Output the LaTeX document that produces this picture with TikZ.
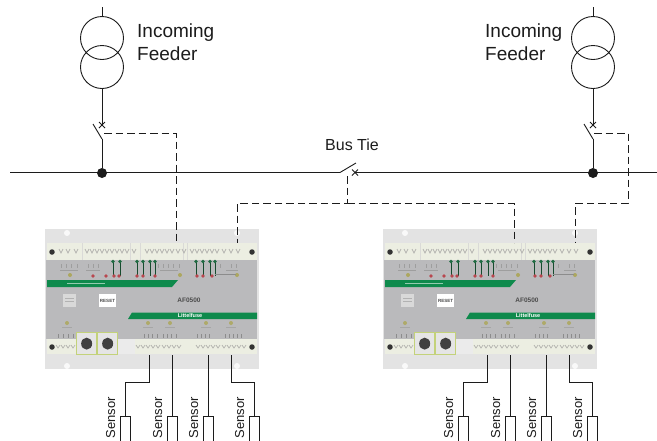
\documentclass[tikz,border=0pt]{standalone}
\usepackage{fontspec}
\setmainfont{Liberation Sans}
\usetikzlibrary{calc}
\definecolor{ink}{HTML}{1C1C1C}
\definecolor{bandlight}{HTML}{E3E3E3}
\definecolor{termlight}{HTML}{ECEEE2}
\definecolor{bodygray}{HTML}{BABABC}
\definecolor{devgreen}{HTML}{0E8A4C}
\definecolor{ledgreen}{HTML}{1F6B42}
\definecolor{ledred}{HTML}{B8474F}
\definecolor{tick}{HTML}{B4B4B0}
\definecolor{rjgreen}{HTML}{C3D27A}
\tikzset{
  wire/.style={draw=ink,line width=0.9pt},
  dashwire/.style={draw=ink,line width=0.9pt,dash pattern=on 7.5pt off 4pt},
  coil/.style={circle,draw=ink,line width=0.9pt,minimum size=43pt,inner sep=0pt},
  junction/.style={circle,fill=ink,minimum size=10pt,inner sep=0pt},
  biglabel/.style={anchor=base west,inner sep=0pt,text=ink,font=\fontsize{19}{23}\selectfont},
  tielabel/.style={anchor=base west,inner sep=0pt,text=ink,font=\fontsize{16}{20}\selectfont},
  senslabel/.style={anchor=base east,rotate=90,inner sep=0pt,text=ink,font=\fontsize{13}{15}\selectfont},
  sensorbox/.style={draw=ink,line width=0.9pt,anchor=north,minimum width=10pt,minimum height=34pt,inner sep=0pt},
  screw/.style={circle,fill=black!80,minimum size=5.5pt,inner sep=0pt},
  blob/.style={circle,fill=white,minimum size=6pt,inner sep=0pt,opacity=.8},
  tinktext/.style={inner sep=0pt,text=black!70,font=\bfseries\fontsize{4.5}{6}\selectfont},
}
% #1 prefix, #2 x offset
\newcommand{\afdevice}[2]{
\begin{scope}[shift={(#2,0)}]
  \fill[bandlight] (45,229) rectangle (259,369);
  \fill[termlight] (47,243) rectangle (257,260);
  \fill[bodygray] (46,260) rectangle (257,339);
  \fill[termlight] (47,339) rectangle (257,354);
  \fill[white!92!black] (117,339) rectangle (135,354);
  \fill[bandlight] (46,354) rectangle (257,369);
  \node[blob] (#1b1) at (67,233) {};
  \node[blob] (#1b2) at (237,233) {};
  \node[blob] (#1b3) at (67,366) {};
  \node[blob] (#1b4) at (237,366) {};
  \foreach \x in {82,130,140,183,187}{\draw[tick!50,line width=0.6pt] (\x,243) -- (\x,260);}
  \foreach \x in {61,68,76,87,92,97,102,107,112,117,122,127,134,
                  147,152,157,162,167,172,178,184,
                  192,197,202,207,212,217,224,231,238}{
    \draw[tick,line width=0.7pt] (\x-2,249) -- (\x,253) -- (\x+2,249);}
  \foreach \x in {58,63,68,73,138,143,148,153,158,164,169,174,179,
                  198,203,208,213,218,224,229,234,239,244}{
    \draw[tick,line width=0.7pt] (\x-2,345) -- (\x,348) -- (\x+2,345);}
  \node[screw] (#1s1) at (52,252) {};
  \node[screw] (#1s2) at (252,252) {};
  \node[screw] (#1s3) at (52,347) {};
  \node[screw] (#1s4) at (252,347) {};
  \foreach \x in {61,66,71,77,88,93,98,158,163,168,173,179,215,220,231,236}{
    \draw[black!38,line width=0.8pt] (\x,264) -- (\x,268);}
  \foreach \x/\w in {60/18,86/14,160/18,226/12}{
    \draw[black!38,line width=0.8pt] (\x,270) -- (\x+\w,270);}
  \foreach \x in {70,180,237}{\fill[olive!45!bodygray] (\x,275) circle (2pt);}
  \foreach \x in {113,120,137,143,150,155,196,203,210,215}{
    \draw[ledgreen!70!black,line width=1pt] (\x,262) -- (\x,276);
    \fill[ledgreen] (\x,261.5) circle (1.9pt);}
  \foreach \x in {93,106,114,119,137,143,155,197,203,212}{
    \fill[ledred] (\x,276) circle (1.9pt);}
  \draw[black!45,line width=0.7pt] (215,274) -- (236,274);
  \fill[devgreen] (47,280) -- (178,280) -- (172,287) -- (47,287) -- cycle;
  \fill[devgreen] (132,312.5) -- (257,312.5) -- (257,319) -- (128,319) -- cycle;
  \draw[white!55!devgreen,line width=0.9pt] (67,283.5) -- (105,283.5);
  \node[tinktext,text=white] (#1lf) at (190,315.7) {\fontsize{5.5}{7}\selectfont Littelfuse};
  \fill[white!85!black] (63,294) rectangle (76,307);
  \draw[black!30,line width=0.6pt] (65,298) -- (74,298) (65,301) -- (74,301);
  \fill[white] (99,294) rectangle (116,307);
  \node[tinktext] (#1rs) at (107.5,300.5) {RESET};
  \node[tinktext,font=\bfseries\fontsize{6.5}{8}\selectfont] (#1af) at (189,300) {AF0500};
  \foreach \x in {67,148,170,206,231}{
    \fill[olive!40!bodygray] (\x,323) circle (2pt);
    \draw[black!35,line width=0.7pt] (\x-5,327) -- (\x+5,327);}
  \foreach \x in {58,63,68,73,144,148,152,157,163,167,171,176,197,201,205,209,225,229,233,237,241}{
    \draw[black!45,line width=1pt] (\x,334) -- (\x,338);}
  \foreach \x/\n in {76/a,97/b}{
    \node[draw=rjgreen,line width=1.3pt,fill=white!90!black,anchor=north west,
          minimum width=20pt,minimum height=22pt,inner sep=0pt] (#1j\n) at (\x,332) {};
    \fill[black!75] (#1j\n.center) ellipse (5.5pt and 6pt);
  }
  \coordinate (#1top1) at (176,243);
  \coordinate (#1top2) at (237,243);
  \coordinate (#1bot1) at (149,355);
  \coordinate (#1bot2) at (172,355);
  \coordinate (#1bot3) at (208,355);
  \coordinate (#1bot4) at (231,355);
  \node[sensorbox] (#1sn1) at (125,416) {};
  \node[sensorbox] (#1sn2) at (172,416) {};
  \node[sensorbox] (#1sn3) at (208,416) {};
  \node[sensorbox] (#1sn4) at (254,416) {};
  \node[senslabel] (#1sl1) at (115,397) {Sensor};
  \node[senslabel] (#1sl2) at (162,397) {Sensor};
  \node[senslabel] (#1sl3) at (198,397) {Sensor};
  \node[senslabel] (#1sl4) at (244,397) {Sensor};
  \coordinate (#1k1) at (125,382);
  \coordinate (#1k4) at (254,382);
  \draw[wire] (#1bot1) |- (#1k1) -- (#1sn1.north);
  \draw[wire] (#1bot2) -- (#1sn2.north);
  \draw[wire] (#1bot3) -- (#1sn3.north);
  \draw[wire] (#1bot4) |- (#1k4) -- (#1sn4.north);
\end{scope}
}
% #1 prefix, #2 x of the feeder
\newcommand{\feeder}[2]{
  \node[coil] (#1u) at (#2,38) {};
  \node[coil] (#1l) at (#2,67) {};
  \coordinate (#1in) at (#2,7);
  \coordinate (#1swt) at (#2,125);
  \coordinate (#1swb) at (#2,139);
  \coordinate (#1bl) at (#2-9,124);
  \node[junction] (#1j) at (#2,173) {};
  \draw[wire] (#1in) -- (#1u.north);
  \draw[wire] (#1l.south) -- (#1swt);
  \draw[wire] (#1swb) -- (#1bl);
  \draw[wire] (#1swb) -- (#1j);
  \draw[wire] ($(#1swt)+(-3,-3)$) -- ($(#1swt)+(3,3)$);
  \draw[wire] ($(#1swt)+(-3,3)$) -- ($(#1swt)+(3,-3)$);
}
\begin{document}
\begin{tikzpicture}[x=1pt,y=-1pt]
  \clip (0,0) rectangle (657,440);
  \fill[white] (0,0) rectangle (657,440);
  \afdevice{a}{0}
  \afdevice{b}{338}
  \feeder{f}{102}
  \feeder{g}{593}
  \node[biglabel] (l1) at (137,37) {Incoming};
  \node[biglabel] (l2) at (137,60) {Feeder};
  \node[biglabel] (l3) at (485,37) {Incoming};
  \node[biglabel] (l4) at (485,60) {Feeder};
  \node[tielabel] (l5) at (325,150) {Bus Tie};
  \coordinate (busL) at (10,172.5);
  \coordinate (busR) at (657,172.5);
  \coordinate (tieA) at (340,172.5);
  \coordinate (tieB) at (355,172.5);
  \coordinate (tieC) at (356,163);
  \draw[wire] (busL) -- (tieA) -- (tieC);
  \draw[wire] (tieB) -- (busR);
  \draw[wire] ($(tieB)+(-3,-3)$) -- ($(tieB)+(3,3)$);
  \draw[wire] ($(tieB)+(-3,3)$) -- ($(tieB)+(3,-3)$);
  \coordinate (d1) at (104,133);
  \coordinate (d2) at (594,133);
  \coordinate (d3) at (628,203);
  \coordinate (d4) at (347,176);
  \coordinate (d5) at (347,203);
  \draw[dashwire] (d1) -| (atop1);
  \draw[dashwire] (d2) -| (d3) -| (btop2);
  \draw[dashwire] (d4) -- (d5) -| (atop2);
  \draw[dashwire] (d5) -| (btop1);
\end{tikzpicture}
\end{document}
